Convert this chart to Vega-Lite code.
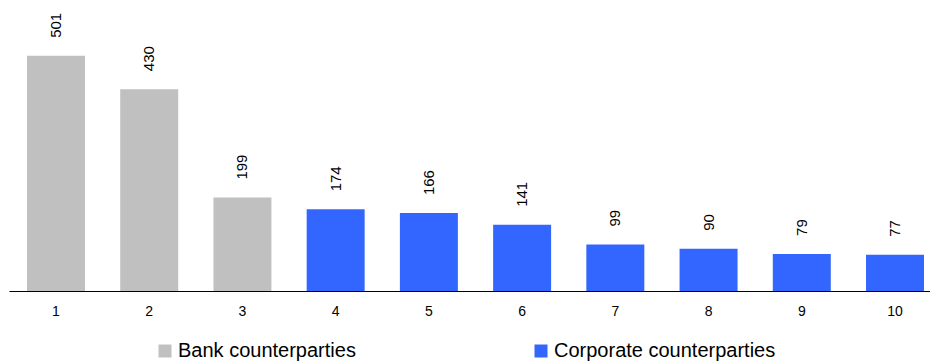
{
  "$schema": "https://vega.github.io/schema/vega-lite/v6.json",
  "width": 933,
  "height": 291,
  "autosize": {"type": "none"},
  "padding": {"left": 9, "top": 0, "right": 0, "bottom": 73},
  "config": {
    "view": {"stroke": null},
    "font": "Liberation Sans"
  },
  "data": {
    "values": [
      {"rank": "1", "value": 501, "type": "Bank counterparties"},
      {"rank": "2", "value": 430, "type": "Bank counterparties"},
      {"rank": "3", "value": 199, "type": "Bank counterparties"},
      {"rank": "4", "value": 174, "type": "Corporate counterparties"},
      {"rank": "5", "value": 166, "type": "Corporate counterparties"},
      {"rank": "6", "value": 141, "type": "Corporate counterparties"},
      {"rank": "7", "value": 99, "type": "Corporate counterparties"},
      {"rank": "8", "value": 90, "type": "Corporate counterparties"},
      {"rank": "9", "value": 79, "type": "Corporate counterparties"},
      {"rank": "10", "value": 77, "type": "Corporate counterparties"}
    ]
  },
  "encoding": {
    "x": {
      "field": "rank",
      "type": "ordinal",
      "sort": null,
      "scale": {"paddingInner": 0.378, "paddingOuter": 0.193},
      "axis": {
        "title": null,
        "labelAngle": 0,
        "ticks": false,
        "domainColor": "#000000",
        "domainWidth": 1,
        "labelColor": "#000000",
        "labelFontSize": 14,
        "labelPadding": 13
      }
    },
    "y": {
      "field": "value",
      "type": "quantitative",
      "scale": {"domain": [0, 620], "nice": false},
      "axis": null
    }
  },
  "layer": [
    {
      "mark": {"type": "bar"},
      "encoding": {
        "color": {
          "field": "type",
          "type": "nominal",
          "scale": {
            "domain": ["Bank counterparties", "Corporate counterparties"],
            "range": ["#c0c0c0", "#3366ff"]
          },
          "legend": {
            "title": null,
            "orient": "none",
            "legendX": 146,
            "legendY": 341,
            "direction": "horizontal",
            "columns": 2,
            "columnPadding": 175,
            "symbolType": "square",
            "symbolSize": 169,
            "symbolStrokeWidth": 0,
            "labelFontSize": 20,
            "labelColor": "#000000",
            "labelOffset": 3,
            "labelLimit": 400
          }
        }
      }
    },
    {
      "mark": {
        "type": "text",
        "angle": -90,
        "align": "left",
        "baseline": "middle",
        "dx": 18,
        "fontSize": 15,
        "color": "#000000"
      },
      "encoding": {
        "text": {"field": "value", "type": "quantitative"}
      }
    }
  ]
}
